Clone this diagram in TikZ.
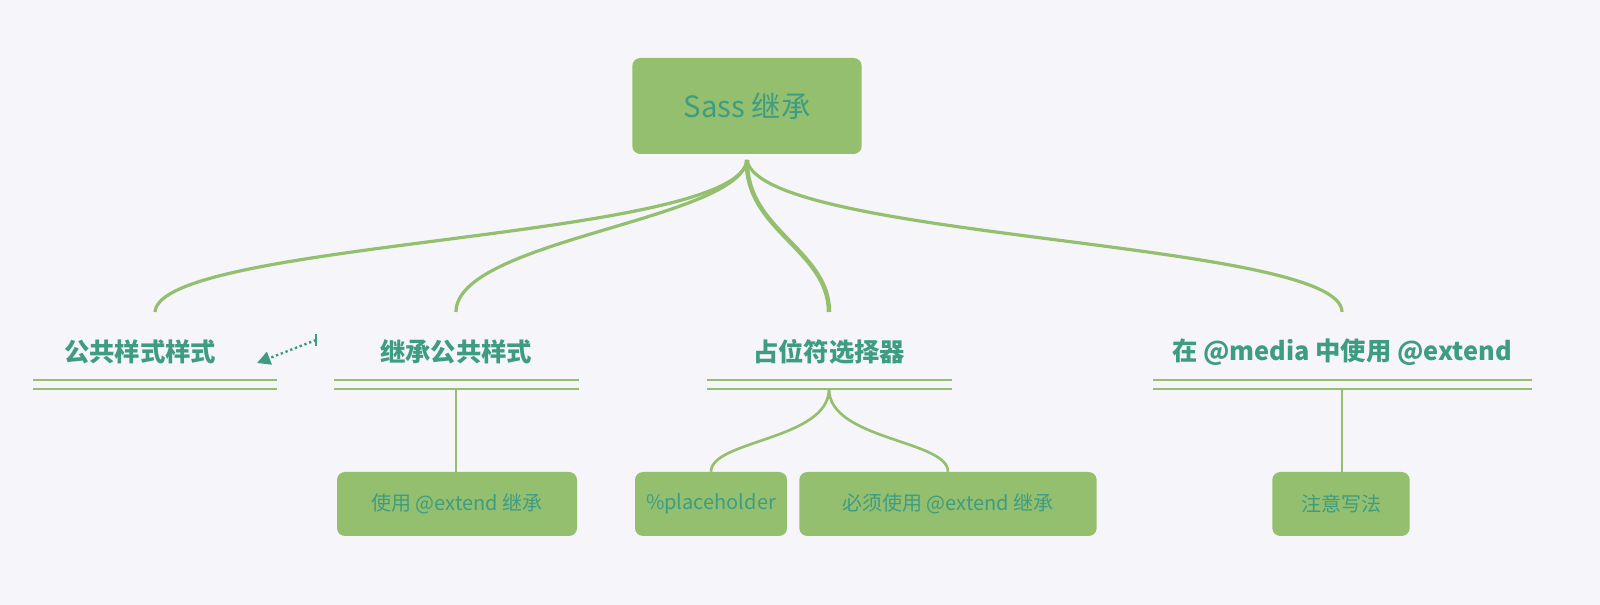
\documentclass[tikz,border=0pt]{standalone}
\usepackage{fontspec}
\setmainfont{Noto Sans CJK SC}
\usepackage{tikz}
\usetikzlibrary{arrows.meta}
\definecolor{bg}{HTML}{F5F5FA}
\definecolor{leaf}{HTML}{93BF6E}
\definecolor{ink}{HTML}{3E9C82}
\tikzset{
  root/.style={rectangle, rounded corners=6pt, fill=leaf, text=ink, minimum width=172pt, minimum height=72pt, font=\fontsize{22}{26}\selectfont},
  topic/.style={text=ink, font=\fontsize{19}{22}\selectfont\bfseries},
  leafbox/.style={rectangle, rounded corners=6pt, fill=leaf, text=ink, minimum height=48pt, font=\fontsize{15}{18}\selectfont},
  branch/.style={draw=leaf, line width=2.4pt},
  stem/.style={draw=leaf, line width=2pt},
  rule/.style={draw=leaf, line width=2pt}
}
\begin{document}
\begin{tikzpicture}[x=0.75pt, y=-0.75pt]
  \useasboundingbox (0,0) rectangle (1600,605);
  \fill[bg] (0,0) rectangle (1600,605);
  \node[root] (root) at (747,106) {Sass 继承};
  \coordinate (hub) at (747,160);
  \node[topic] (t1) at (140,352) {公共样式样式};
  \node[topic] (t2) at (456,352) {继承公共样式};
  \node[topic] (t3) at (829,352) {占位符选择器};
  \node[topic] (t4) at (1342,352) {在 @media 中使用 @extend};
  \coordinate (t1top) at (155,312);
  \coordinate (t2top) at (456,312);
  \coordinate (t3top) at (829,312);
  \coordinate (t4top) at (1342,312);
  \draw[branch] (hub) .. controls (740,240) and (160,240) .. (t1top);
  \draw[branch] (hub) .. controls (740,220) and (456,240) .. (t2top);
  \draw[branch, line width=3.4pt] (hub) .. controls (745,230) and (829,250) .. (t3top);
  \draw[branch] (hub) .. controls (760,240) and (1342,240) .. (t4top);
  % double rules under the topics
  \foreach \a/\b in {33/277, 334/579, 707/952, 1153/1532} {
    \draw[rule] (\a,380) -- (\b,380);
    \draw[rule] (\a,389) -- (\b,389);
  }
  \node[leafbox, minimum width=180pt] (l1) at (457,504) {使用 @extend 继承};
  \node[leafbox, minimum width=114pt] (l2) at (711,504) {\%placeholder};
  \node[leafbox, minimum width=223pt] (l3) at (948,504) {必须使用 @extend 继承};
  \node[leafbox, minimum width=103pt] (l4) at (1341,504) {注意写法};
  \draw[stem] (456,389) -- (456,472);
  \draw[stem] (1342,389) -- (1342,472);
  \draw[stem] (829,389) .. controls (829,440) and (711,440) .. (l2.north);
  \draw[stem] (829,389) .. controls (829,440) and (948,440) .. (l3.north);
  % dotted link
  \coordinate (lk) at (316,340);
  \draw[ink, line width=1.8pt, dotted, -{Triangle[length=10pt,width=10pt]}] (lk) -- (257,363);
  \draw[ink, line width=1.8pt] (316,334) -- (316,346);
\end{tikzpicture}
\end{document}
